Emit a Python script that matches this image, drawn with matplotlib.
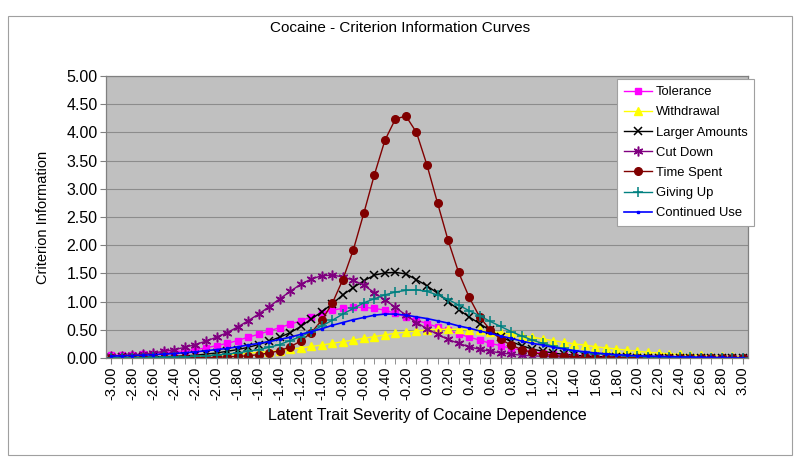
import numpy as np
import matplotlib
matplotlib.use('Agg')
from matplotlib import pyplot as plt
from matplotlib.patches import Rectangle

plt.rcParams['font.family'] = ['Liberation Sans', 'DejaVu Sans']

# latent trait categories, -3.0 .. 3.0 in steps of 0.1
theta = np.round(np.linspace(-3.0, 3.0, 61), 1)

tolerance = [0.05, 0.055, 0.06, 0.07, 0.08, 0.10, 0.11, 0.13, 0.15, 0.18,
             0.22, 0.26, 0.31, 0.37, 0.42, 0.48, 0.54, 0.60, 0.66, 0.73,
             0.79, 0.85, 0.88, 0.90, 0.90, 0.88, 0.85, 0.79, 0.73, 0.67,
             0.61, 0.55, 0.49, 0.43, 0.37, 0.32, 0.26, 0.22, 0.17, 0.14,
             0.11, 0.085, 0.065, 0.05, 0.04, 0.03, 0.025, 0.02, 0.015, 0.012,
             0.01, 0.008, 0.006, 0.005, 0.004, 0.003, 0.003, 0.002, 0.002, 0.002,
             0.001]
withdrawal = [0.01, 0.012, 0.014, 0.016, 0.018, 0.02, 0.025, 0.03, 0.035, 0.04,
              0.05, 0.06, 0.07, 0.085, 0.10, 0.115, 0.13, 0.155, 0.18, 0.205,
              0.23, 0.26, 0.29, 0.32, 0.35, 0.38, 0.41, 0.44, 0.46, 0.48,
              0.50, 0.51, 0.51, 0.51, 0.50, 0.49, 0.47, 0.45, 0.42, 0.39,
              0.37, 0.34, 0.31, 0.28, 0.25, 0.23, 0.20, 0.18, 0.16, 0.14,
              0.12, 0.10, 0.09, 0.075, 0.065, 0.055, 0.05, 0.04, 0.035, 0.03,
              0.025]
larger_amounts = [0.008, 0.01, 0.012, 0.015, 0.02, 0.025, 0.03, 0.04, 0.05, 0.07,
                  0.09, 0.12, 0.15, 0.19, 0.24, 0.30, 0.37, 0.45, 0.56, 0.69,
                  0.82, 0.96, 1.12, 1.25, 1.37, 1.47, 1.51, 1.52, 1.49, 1.39,
                  1.28, 1.15, 1.00, 0.86, 0.73, 0.61, 0.49, 0.38, 0.29, 0.22,
                  0.16, 0.12, 0.09, 0.065, 0.05, 0.035, 0.025, 0.02, 0.015, 0.01,
                  0.008, 0.006, 0.005, 0.004, 0.003, 0.002, 0.002, 0.001, 0.001, 0.001,
                  0.001]
cut_down = [0.035, 0.045, 0.055, 0.07, 0.09, 0.12, 0.15, 0.19, 0.24, 0.30,
            0.37, 0.45, 0.55, 0.66, 0.78, 0.91, 1.05, 1.18, 1.31, 1.40,
            1.46, 1.47, 1.44, 1.38, 1.29, 1.16, 1.03, 0.90, 0.76, 0.63,
            0.52, 0.42, 0.33, 0.26, 0.20, 0.155, 0.12, 0.09, 0.07, 0.05,
            0.04, 0.03, 0.022, 0.017, 0.013, 0.01, 0.007, 0.005, 0.004, 0.003,
            0.002, 0.002, 0.001, 0.001, 0.001, 0.001, 0.001, 0.001, 0.001, 0.001,
            0.001]
time_spent = [0.0, 0.0, 0.001, 0.001, 0.001, 0.002, 0.003, 0.004, 0.006, 0.009,
              0.013, 0.02, 0.03, 0.04, 0.06, 0.09, 0.13, 0.20, 0.30, 0.45,
              0.67, 0.97, 1.39, 1.92, 2.57, 3.25, 3.86, 4.24, 4.29, 4.00,
              3.42, 2.75, 2.09, 1.52, 1.08, 0.73, 0.50, 0.33, 0.23, 0.15,
              0.10, 0.065, 0.045, 0.03, 0.02, 0.013, 0.009, 0.006, 0.004, 0.003,
              0.002, 0.001, 0.001, 0.001, 0.001, 0.0, 0.0, 0.0, 0.0, 0.0,
              0.0]
giving_up = [0.005, 0.006, 0.007, 0.009, 0.011, 0.014, 0.018, 0.023, 0.03, 0.04,
             0.055, 0.07, 0.09, 0.12, 0.15, 0.19, 0.24, 0.31, 0.38, 0.47,
             0.57, 0.67, 0.78, 0.88, 0.98, 1.05, 1.12, 1.17, 1.20, 1.21,
             1.18, 1.12, 1.04, 0.94, 0.84, 0.75, 0.65, 0.56, 0.47, 0.39,
             0.32, 0.26, 0.21, 0.17, 0.13, 0.10, 0.08, 0.065, 0.05, 0.04,
             0.03, 0.025, 0.02, 0.015, 0.012, 0.01, 0.008, 0.006, 0.005, 0.004,
             0.003]
continued_use = [0.035, 0.04, 0.045, 0.05, 0.06, 0.07, 0.08, 0.095, 0.11, 0.13,
                 0.15, 0.17, 0.20, 0.23, 0.26, 0.29, 0.33, 0.37, 0.42, 0.47,
                 0.52, 0.58, 0.63, 0.68, 0.72, 0.76, 0.78, 0.78, 0.76, 0.73,
                 0.70, 0.66, 0.62, 0.57, 0.53, 0.48, 0.44, 0.39, 0.35, 0.30,
                 0.26, 0.23, 0.19, 0.16, 0.13, 0.11, 0.09, 0.075, 0.06, 0.05,
                 0.04, 0.035, 0.03, 0.025, 0.02, 0.017, 0.014, 0.012, 0.01, 0.008,
                 0.007]

x_labels = ['%.2f' % t for t in theta[::2]]

fig = plt.figure(figsize=(8, 4.62), dpi=100)
fig.patches.append(Rectangle((0.01, 0.015), 0.98, 0.95, transform=fig.transFigure,
                             fill=False, edgecolor='#a0a0a0', linewidth=0.8))
ax = fig.add_axes([0.1325, 0.225, 0.8025, 0.6104])
ax.set_facecolor('#c0c0c0')

ax.plot(theta, tolerance, '-', color='#ff00ff', marker='s', ms=5, lw=1, label='Tolerance')
ax.plot(theta, withdrawal, '-', color='#ffff00', marker='^', ms=5.5, lw=1, label='Withdrawal')
ax.plot(theta, larger_amounts, '-', color='black', marker='x', ms=6, mew=1.1, lw=1, label='Larger Amounts')
ax.plot(theta, cut_down, '-', color='#800080', marker=(6, 2, 0), ms=7, mew=1.1, lw=1, label='Cut Down')
ax.plot(theta, time_spent, '-', color='#800000', marker='o', ms=5.5, lw=1, label='Time Spent')
ax.plot(theta, giving_up, '-', color='#008080', marker='+', ms=7, mew=1.1, lw=1, label='Giving Up')
ax.plot(theta, continued_use, '-', color='#0000ff', marker='s', ms=2, lw=1.2, label='Continued Use')

ax.set_xlim(-3.05, 3.05)
ax.set_ylim(0, 5)
ax.set_yticks(np.arange(0, 5.01, 0.5))
ax.set_yticklabels(['%.2f' % v for v in np.arange(0, 5.01, 0.5)], fontsize=11.5)
ax.set_xticks(theta[::2])
ax.set_xticklabels(x_labels, rotation=90, fontsize=10.5)
ax.set_xticks(theta, minor=True)
ax.tick_params(axis='both', which='both', direction='out', length=4, color='#808080', pad=2)
ax.yaxis.grid(True, color='#8c8c8c', linewidth=0.8)
ax.set_axisbelow(True)
for s in ax.spines.values():
    s.set_color('#808080')
    s.set_linewidth(0.9)

ax.set_xlabel('Latent Trait Severity of Cocaine Dependence', fontsize=11.5, labelpad=6)
ax.set_ylabel('Criterion Information', fontsize=10.5)
ax.yaxis.set_label_coords(-0.088, 0.5)
fig.text(0.5, 0.94, 'Cocaine - Criterion Information Curves', ha='center', va='center', fontsize=11)

leg = ax.legend(loc='upper left', bbox_to_anchor=(0.796, 0.988), fontsize=9.4,
                frameon=True, fancybox=False, handlelength=2.2, labelspacing=0.62,
                borderpad=0.5, handletextpad=0.3, borderaxespad=0)
leg.get_frame().set_facecolor('white')
leg.get_frame().set_edgecolor('#a0a0a0')
leg.get_frame().set_linewidth(0.8)
leg.get_frame().set_alpha(1)

plt.savefig('out.png', dpi=100)
